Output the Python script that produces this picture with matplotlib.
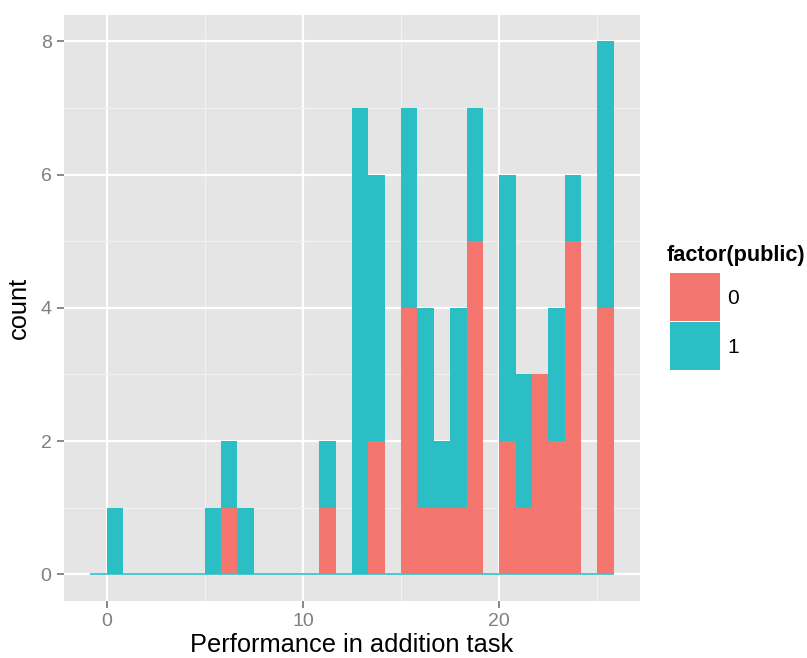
import numpy as np
import matplotlib
matplotlib.use("Agg")
import matplotlib.pyplot as plt
from matplotlib.patches import Rectangle

# ---- data ----
scores = [0, 5, 6, 7, 11, 13, 14, 15, 16, 17, 18, 19, 20, 21, 22, 23, 24, 25]
count_public0 = [0, 0, 1, 0, 1, 0, 2, 4, 1, 1, 1, 5, 2, 1, 3, 2, 5, 4]
count_public1 = [1, 1, 1, 1, 1, 7, 4, 3, 3, 1, 3, 2, 4, 2, 0, 2, 1, 4]
groups = ["0", "1"]
legend_title = "factor(public)"
xlabel = "Performance in addition task"
ylabel = "count"
xticks = [0, 10, 20]
yticks = [0, 2, 4, 6, 8]

colors = ["#F5766F", "#2CBEC5"]
W, H = 807, 658
fig = plt.figure(figsize=(W / 100, H / 100), dpi=100)
plt.rcParams['font.family'] = ['Liberation Sans', 'DejaVu Sans']

ax = fig.add_axes([64 / W, 1 - 601 / H, (640 - 64) / W, (601 - 14.7) / H])
ax.set_facecolor("#E5E5E5")

scores_a = np.array(scores, dtype=float)
rng_min, rng_max = 0.0, 25.0
bw = (rng_max - rng_min) / 30
left = bw * np.floor(scores_a / bw + 1e-9)
c0 = np.array(count_public0)
c1 = np.array(count_public1)

# zero-count baseline across the full histogram range
ax.plot([rng_min - bw, rng_max + bw], [0, 0], color=colors[1], lw=1.2,
        solid_capstyle="butt", zorder=2)
ax.bar(left, c0, width=bw, align="edge", color=colors[0], linewidth=0, zorder=3)
ax.bar(left, c1, width=bw, bottom=c0, align="edge", color=colors[1], linewidth=0, zorder=3)

x0, x1 = rng_min - bw, rng_max + bw
pad = (x1 - x0) * 0.05
ax.set_xlim(x0 - pad, x1 + pad)
ymax = 8
ax.set_ylim(-0.05 * ymax, ymax * 1.05)

ax.set_xticks(xticks)
ax.set_yticks(yticks)
ax.set_xticks([5, 15, 25], minor=True)
ax.set_yticks([1, 3, 5, 7], minor=True)
ax.grid(which="major", color="white", lw=1.6, zorder=0)
ax.grid(which="minor", color="#F2F2F2", lw=0.8, zorder=0)
ax.set_axisbelow(True)
for s in ax.spines.values():
    s.set_visible(False)
ax.tick_params(which="major", length=5, width=1.3, color="#7F7F7F",
               labelcolor="#7F7F7F", labelsize=14, pad=4)
ax.tick_params(which="minor", length=0)

ax.set_xlabel(xlabel, fontsize=18.3, color="black", labelpad=2)
ax.set_ylabel(ylabel, fontsize=18.3, color="black", labelpad=7)

# legend
fig.text(667 / W, 1 - 255 / H, legend_title, fontsize=15.6, fontweight="bold",
         va="center", ha="left")
key_top = 273
key_h = 49
for i, (g, c) in enumerate(zip(groups, colors)):
    y_top = key_top + i * key_h
    fig.patches.append(Rectangle((670 / W, 1 - (y_top + key_h - 1) / H), 50 / W, (key_h - 1) / H,
                                 transform=fig.transFigure, facecolor=c, edgecolor="none"))
    fig.text(727 / W, 1 - (y_top + key_h / 2 + 1) / H, g, fontsize=15, va="center", ha="left")

fig.savefig("out.png", dpi=100)
